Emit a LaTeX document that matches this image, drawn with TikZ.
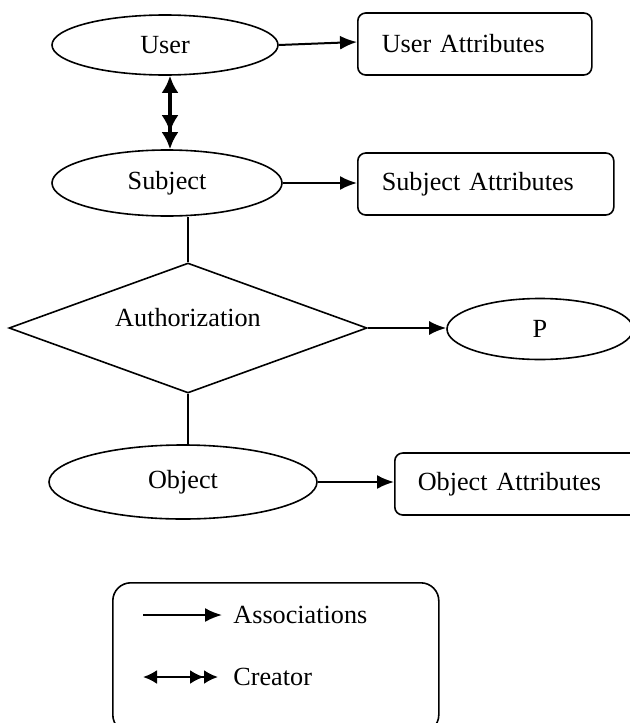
\documentclass[tikz,border=0pt]{standalone}
\usepackage{fontspec}
\setmainfont{Liberation Serif}
\usetikzlibrary{arrows.meta,shapes.geometric}

\begin{document}
\begin{tikzpicture}[x=0.5pt, y=-0.5pt,
  font=\fontsize{13.1}{15}\selectfont,
  ent/.style={draw, ellipse, line width=0.8pt, inner sep=0pt},
  attr/.style={draw, rounded corners=4pt, line width=0.8pt, anchor=west, align=left,
               minimum height=31pt, inner xsep=12pt},
  arr/.style={-{Latex[length=8.5pt, width=7pt]}, line width=1pt},
  crt/.style={{Latex[length=#1, width=#1]}-{Latex[length=#1, width=#1] Latex[length=#1, width=#1]}},
  crt/.default=7pt
]
\path[use as bounding box, clip] (0,0) rectangle (630,723);
\node[ent, minimum width=113pt, minimum height=30pt] (user) at (165,45) {User};
\node[ent, minimum width=115pt, minimum height=33pt] (subj) at (167,183) {Subject};
\node[draw, diamond, line width=0.8pt, minimum width=179pt, minimum height=65pt, inner sep=0pt,
      label={[yshift=5pt]center:Authorization}] (auth) at (188,328) {};
\node[ent, minimum width=93pt, minimum height=30.5pt] (p) at (540,329) {P};
\node[ent, minimum width=134pt, minimum height=37pt] (obj) at (183,482) {Object};
\node[attr, text width=93pt] (uattr) at (357,44) {User Attributes};
\node[attr, text width=104pt] (sattr) at (357,184) {Subject Attributes};
\node[attr, text width=100pt, inner xsep=11.5pt] (oattr) at (394,484) {Object Attributes};
\draw[arr] (user.east) -- ([yshift=1pt]uattr.west);
\draw[crt=8.5pt, line width=1.75pt] ([xshift=2.5pt]user.south) -- ([xshift=1.5pt]subj.north);
\draw[arr] (subj.east) -- (subj.east -| sattr.west);
\draw[line width=1pt] (auth.north) -- (auth.north |- subj.south);
\draw[arr] (auth.east) -- (auth.east -| p.west);
\draw[line width=1pt] (auth.south) -- (auth.south |- obj.north);
\draw[arr] (obj.east) -- (obj.east -| oattr.west);
\node[draw, rounded corners=9pt, line width=0.8pt, minimum width=163pt, minimum height=75pt,
      anchor=north west] (legend) at (112,582) {};
\coordinate (a0) at (143,615);
\node[anchor=west, inner xsep=5.5pt] (assoc) at (222,615) {Associations};
\draw[arr] (a0) -- (assoc.west);
\coordinate (c0) at (143,677);
\node[anchor=west, inner xsep=7.5pt] (creator) at (218,677) {Creator};
\draw[crt, line width=1.2pt] (c0) -- (creator.west);
\end{tikzpicture}
\end{document}
